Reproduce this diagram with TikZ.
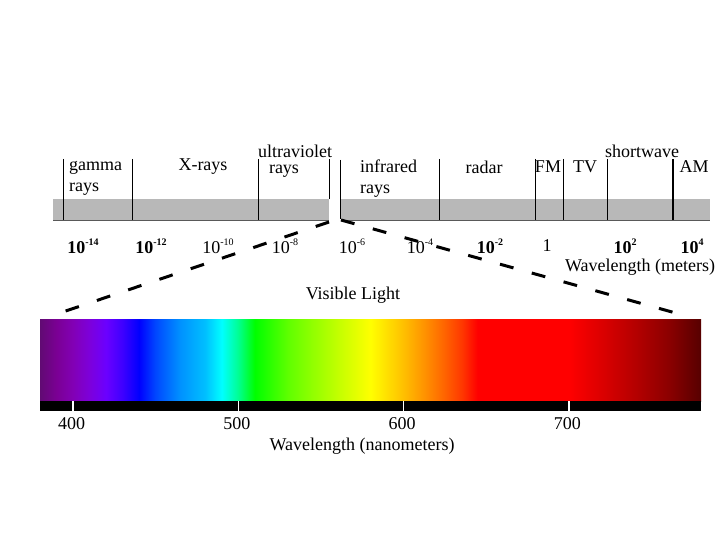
\documentclass[tikz,border=0pt]{standalone}
\usepackage{fontspec}
\setmainfont{Liberation Serif}
\usetikzlibrary{positioning}
% visible spectrum, 380 nm at 25bp .. 780 nm at 75bp
\pgfdeclarehorizontalshading{visspec}{100bp}{%
  rgb(0bp)=(0.38,0.04,0.45); rgb(25bp)=(0.38,0.04,0.45); rgb(26.25bp)=(0.48,0,0.58);
  rgb(27.5bp)=(0.51,0,0.71); rgb(28.75bp)=(0.49,0,0.86); rgb(30bp)=(0.42,0,1);
  rgb(31.25bp)=(0.24,0,1); rgb(32.5bp)=(0,0,1); rgb(33.75bp)=(0,0.28,1);
  rgb(35.6bp)=(0,0.57,1); rgb(37.5bp)=(0,0.75,1); rgb(38.75bp)=(0,1,1);
  rgb(40bp)=(0,1,0.57); rgb(41.25bp)=(0,1,0); rgb(43.75bp)=(0.37,1,0);
  rgb(45.6bp)=(0.57,1,0); rgb(47.5bp)=(0.76,1,0); rgb(50bp)=(1,1,0);
  rgb(52.5bp)=(1,0.75,0); rgb(54.1bp)=(1,0.57,0); rgb(55.6bp)=(1,0.39,0);
  rgb(56.9bp)=(1,0.22,0); rgb(58.1bp)=(1,0,0); rgb(65bp)=(1,0,0);
  rgb(67.5bp)=(0.86,0,0); rgb(70bp)=(0.71,0,0); rgb(72.5bp)=(0.55,0,0);
  rgb(75bp)=(0.34,0,0); rgb(100bp)=(0.34,0,0)}
\newcommand{\tenpow}[1]{10\raisebox{0.45em}{\fontsize{10}{10}\selectfont#1}}
\tikzset{
  band/.style={fill=black!28, draw=none},
  divider/.style={draw=black, line width=0.8pt},
  bandlbl/.style={font=\fontsize{18}{21}\selectfont, inner sep=0pt},
  twoline/.style={bandlbl, align=left, anchor=west},
  powlbl/.style={font=\fontsize{18}{20}\selectfont, inner sep=0pt},
  zoomln/.style={draw=black, line width=3pt, dash pattern=on 14pt off 19pt},
  nmtick/.style={draw=white, line width=1.4pt},
}

\begin{document}
\begin{tikzpicture}[x=1pt, y=-1pt]
  \useasboundingbox (0,0) rectangle (720,540);
  % electromagnetic band, open where the visible window is
  \fill[band] (53,199) rectangle (329,220);
  \fill[band] (340.5,199) rectangle (710,220);
  \draw[black!65, line width=0.8pt] (53,220) -- (329,220) (340.5,220) -- (710,220);
  \foreach \x in {63,132,439,535,563,607}
    \draw[divider] (\x,159) -- (\x,220);
  \foreach \x in {258.5,673}
    \draw[divider, line width=1.3pt] (\x,159) -- (\x,220);
  \draw[divider] (329,159) -- (329,199);
  \draw[divider] (340.5,160) -- (340.5,219);

  \node[twoline] (gamma) at (69,178.5) {gamma\\rays};
  \node[bandlbl] (xray) at (203,167) {X-rays};
  \node[bandlbl] (uv) at (295,151) {ultraviolet};
  \node[bandlbl] (uvrays) at (284,171) {rays};
  \node[twoline] (ir) at (360,178.5) {infrared\\rays};
  \node[bandlbl] (radar) at (484,167) {radar};
  \node[bandlbl] (fm) at (548,167) {FM};
  \node[bandlbl] (tv) at (585,167) {TV};
  \node[bandlbl] (sw) at (642,151) {shortwave};
  \node[bandlbl] (am) at (694,167) {AM};

  % wavelength scale in meters
  \foreach \x/\e [count=\i] in {83/-14,151/-12,490/-2,625/2,692/4}
    \node[powlbl, font=\fontsize{18}{20}\selectfont\bfseries] (pb\i) at (\x,246) {\tenpow{\e}};
  \foreach \x/\e [count=\i] in {218/-10,285/-8,352/-6,420/-4}
    \node[powlbl] (pr\i) at (\x,246) {\tenpow{\e}};
  \node[powlbl] (one) at (547,246) {1};
  \node[bandlbl] (wlm) at (640,267) {Wavelength (meters)};

  % zoom into the visible part
  \coordinate (gapL) at (329,222);
  \coordinate (gapR) at (341,220);
  \coordinate (specNW) at (48,317);
  \coordinate (specNE) at (690,317);
  \draw[zoomln] (gapL) -- (specNW);
  \draw[zoomln] (gapR) -- (specNE);
  \node[bandlbl] (vis) at (353,295) {Visible Light};

  % spectrum bar
  \shade[shading=visspec] (40,319) rectangle (701,401);
  \fill[black] (40,401) rectangle (701,411);
  \foreach \nm in {400,500,600,700} {
    \pgfmathsetmacro\xx{73+(\nm-400)*1.6533}
    \draw[nmtick] (\xx,401) -- (\xx,411);
    \node[bandlbl] (nm\nm) at (\xx-1.5,424) {\nm};
  }
  \node[bandlbl] (wlnm) at (362,446) {Wavelength (nanometers)};
\end{tikzpicture}
\end{document}
